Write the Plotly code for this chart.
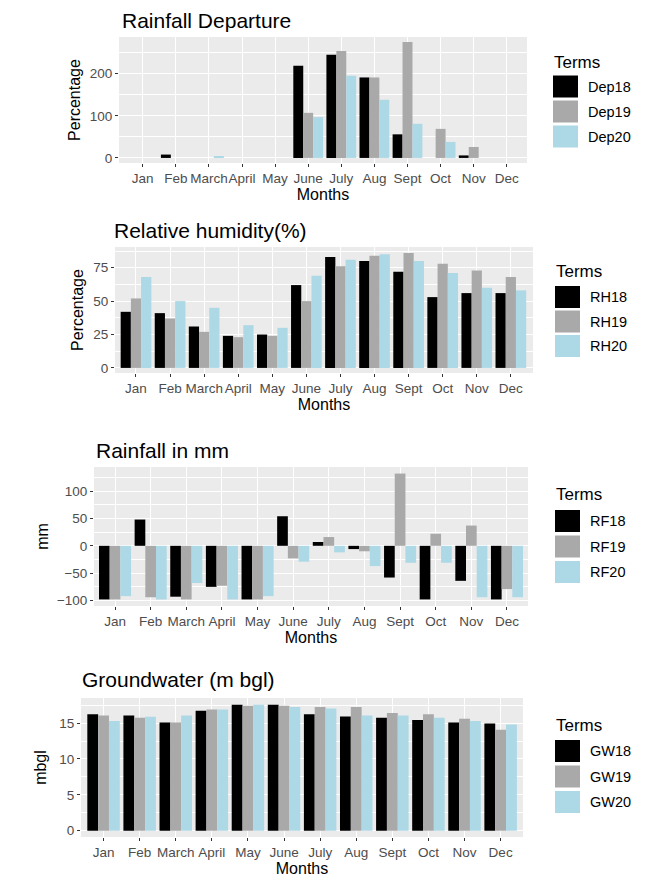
import plotly.graph_objects as go

# ---------------- data ----------------
months = ["Jan", "Feb", "March", "April", "May", "June", "July", "Aug", "Sept", "Oct", "Nov", "Dec"]

dep18 = [0, 8, 0, 0, 0, 219, 245, 191, 56, 0, 6, 0]
dep19 = [0, 0, 0, 0, 0, 107, 254, 191, 275, 69, 26, 0]
dep20 = [0, 0, 3, 0, 0, 97, 195, 138, 81, 38, 0, 0]

rh18 = [42, 41, 31, 24, 25, 62, 83, 80, 72, 53, 56, 56]
rh19 = [52, 37, 27, 23, 24, 50, 76, 84, 86, 78, 73, 68]
rh20 = [68, 50, 45, 32, 30, 69, 81, 85, 80, 71, 60, 58]

rf18 = [-98, 48, -93, -75, -98, 54, 7, -6, -58, -98, -64, -98]
rf19 = [-98, -94, -98, -73, -98, -23, 16, -10, 132, 22, 37, -79]
rf20 = [-92, -98, -68, -98, -92, -29, -12, -37, -31, -31, -94, -94]

gw18 = [16.25, 16.07, 15.1, 16.72, 17.56, 17.56, 16.25, 15.93, 15.74, 15.42, 15.1, 14.95]
gw19 = [16.07, 15.74, 15.1, 16.9, 17.42, 17.42, 17.23, 17.23, 16.4, 16.25, 15.6, 14.07]
gw20 = [15.3, 15.9, 16.07, 16.9, 17.56, 17.23, 17.05, 16.07, 16.07, 15.74, 15.28, 14.8]

panels = [
    dict(title="Rainfall Departure", ytitle="Percentage", names=["Dep18", "Dep19", "Dep20"],
         series=[dep18, dep19, dep20]),
    dict(title="Relative humidity(%)", ytitle="Percentage", names=["RH18", "RH19", "RH20"],
         series=[rh18, rh19, rh20]),
    dict(title="Rainfall in mm", ytitle="mm", names=["RF18", "RF19", "RF20"],
         series=[rf18, rf19, rf20]),
    dict(title="Groundwater (m bgl)", ytitle="mbgl", names=["GW18", "GW19", "GW20"],
         series=[gw18, gw19, gw20]),
]

# ---------------- style / layout ----------------
# the page body has an 8px margin, so the figure is 8px smaller and offset
OFF = 8
W, H = 645 - OFF, 881 - OFF
colors = ["#000000", "#A9A9A9", "#ADD8E6"]
FONT = "Liberation Sans, Arial, sans-serif"

def xf(px):
    return (px - OFF) / W

def yf(py):
    return 1 - (py - OFF) / H

geom = [
    dict(xd=(119, 527), yd=(37, 163), xr=[-0.716, 11.61], yr=[-12, 287], dt=100, mdt=50,
         title_xy=(121, 21), legend_y=(62, [86.5, 111.5, 136.5]), legend_x=553, ystand=5),
    dict(xd=(115, 533), yd=(247, 373), xr=[-0.616, 11.65], yr=[-3.8, 90.5], dt=25, mdt=12.5,
         title_xy=(113, 231), legend_y=(271, [297, 321.5, 346]), legend_x=555, ystand=5),
    dict(xd=(94, 528), yd=(467, 606), xr=[-0.59, 11.59], yr=[-110, 144], dt=50, mdt=25,
         title_xy=(95, 450), legend_y=(494, [521, 546.5, 572]), legend_x=555, ystand=4),
    dict(xd=(81, 523), yd=(698, 837), xr=[-0.625, 11.62], yr=[-0.88, 18.5], dt=5, mdt=2.5,
         title_xy=(81, 679), legend_y=(725, [751, 776.5, 802]), legend_x=555, ystand=8),
]

fig = go.Figure()
annotations = []
shapes = []
layout_axes = {}

for i, (p, g) in enumerate(zip(panels, geom), start=1):
    xa = "x" if i == 1 else f"x{i}"
    ya = "y" if i == 1 else f"y{i}"
    for name, vals, col in zip(p["names"], p["series"], colors):
        fig.add_trace(go.Bar(x=months, y=vals, name=name, marker=dict(color=col, line=dict(width=0)),
                             xaxis=xa, yaxis=ya, showlegend=False))
    xkey = "xaxis" if i == 1 else f"xaxis{i}"
    ykey = "yaxis" if i == 1 else f"yaxis{i}"
    layout_axes[xkey] = dict(
        domain=[xf(g["xd"][0]), xf(g["xd"][1])], anchor=ya, range=g["xr"],
        type="category", categoryorder="array", categoryarray=months,
        showgrid=True, gridcolor="white", gridwidth=1.1,
        ticks="outside", ticklen=3, tickcolor="#333333", tickwidth=1, tickangle=0,
        tickfont=dict(family=FONT, size=13.5, color="#4D4D4D"),
        title=dict(text="Months", font=dict(family=FONT, size=16, color="#000000"), standoff=3),
        zeroline=False, showline=False, fixedrange=True, automargin=False,
    )
    layout_axes[ykey] = dict(
        domain=[yf(g["yd"][1]), yf(g["yd"][0])], anchor=xa, range=g["yr"],
        tick0=0, dtick=g["dt"],
        showgrid=True, gridcolor="white", gridwidth=1.1,
        minor=dict(showgrid=True, gridcolor="white", gridwidth=0.5, dtick=g["mdt"], tick0=0, ticks=""),
        ticks="outside", ticklen=3, tickcolor="#333333", tickwidth=1,
        tickfont=dict(family=FONT, size=13.5, color="#4D4D4D"),
        title=dict(text=p["ytitle"], font=dict(family=FONT, size=16, color="#000000"), standoff=g["ystand"]),
        zeroline=False, showline=False, fixedrange=True, automargin=False,
    )
    tx, ty = g["title_xy"]
    annotations.append(dict(text=p["title"], x=xf(tx), y=yf(ty), xref="paper", yref="paper",
                            xanchor="left", yanchor="middle", showarrow=False, borderpad=0,
                            font=dict(family=FONT, size=21, color="#000000")))
    lx = g["legend_x"]
    ty_leg, key_ys = g["legend_y"]
    annotations.append(dict(text="Terms", x=xf(lx), y=yf(ty_leg), xref="paper", yref="paper",
                            xanchor="left", yanchor="middle", showarrow=False, borderpad=0,
                            font=dict(family=FONT, size=17, color="#000000")))
    for name, col, ky in zip(p["names"], colors, key_ys):
        shapes.append(dict(type="rect", xref="paper", yref="paper",
                           x0=xf(lx), x1=xf(lx + 25), y0=yf(ky + 11), y1=yf(ky - 11),
                           fillcolor=col, line=dict(width=0)))
        annotations.append(dict(text=name, x=xf(lx + 34), y=yf(ky), xref="paper", yref="paper",
                                xanchor="left", yanchor="middle", showarrow=False, borderpad=0,
                                font=dict(family=FONT, size=14.5, color="#000000")))

fig.update_layout(
    width=W, height=H,
    margin=dict(l=0, r=0, t=0, b=0, autoexpand=False),
    paper_bgcolor="white", plot_bgcolor="#EBEBEB",
    barmode="group", bargap=0.1, bargroupgap=0,
    showlegend=False,
    annotations=annotations, shapes=shapes,
    font=dict(family=FONT),
    **layout_axes,
)

fig.write_html("out.html")
